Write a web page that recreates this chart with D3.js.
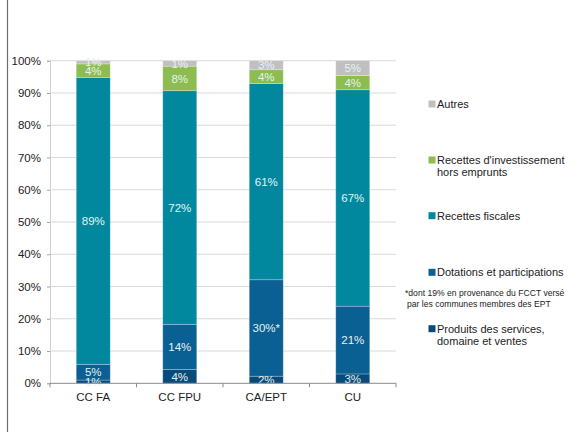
<!DOCTYPE html>
<html><head><meta charset="utf-8">
<script src="https://cdn.jsdelivr.net/npm/d3@7"></script>
<style>body{margin:0;background:#fff;} text{font-family:"Liberation Sans",Arial,Helvetica,sans-serif;}</style>
</head><body>
<svg id="c" width="587" height="432"></svg>
<script>
const categories = ["CC FA", "CC FPU", "CA/EPT", "CU"];
const seriesNames = ["Produits des services, domaine et ventes", "Dotations et participations", "Recettes fiscales", "Recettes d'investissement hors emprunts", "Autres"];
const produits   = [1.0, 4.3, 2.2, 2.9];
const dotations  = [4.8, 13.9, 29.9, 21.0];
const fiscales   = [89.0, 72.5, 60.8, 67.1];
const invest     = [4.2, 7.6, 4.3, 4.4];
const autres     = [1.0, 1.7, 2.8, 4.6];
const labelsProduits  = ["1%", "4%", "2%", "3%"];
const labelsDotations = ["5%", "14%", "30%*", "21%"];
const labelsFiscales  = ["89%", "72%", "61%", "67%"];
const labelsInvest    = ["4%", "8%", "4%", "4%"];
const labelsAutres    = ["1%", "1%", "3%", "5%"];
const yTicks = [0,10,20,30,40,50,60,70,80,90,100];

(function(){
const colors = ["#074b7c", "#0a5f93", "#01889f", "#8dbd50", "#c0c0c0"];
const seriesVals = [produits, dotations, fiscales, invest, autres];
const seriesLabels = [labelsProduits, labelsDotations, labelsFiscales, labelsInvest, labelsAutres];

const svg = d3.select("#c");
const mLeft = 50, mRight = 396, mTop = 60.7, mBottom = 383.3;

svg.append("line").attr("x1",7.5).attr("x2",7.5).attr("y1",0).attr("y2",432).attr("stroke","#6b6b6b").attr("stroke-width",1.2);

const x = d3.scaleBand().domain(categories).range([mLeft, mRight]).paddingInner(0.607).paddingOuter(0.3035);
const y = d3.scaleLinear().domain([0,100]).range([mBottom, mTop]);

svg.append("g").selectAll("line").data(yTicks.filter(d=>d>0)).join("line")
  .attr("x1", mLeft).attr("x2", mRight).attr("y1", d=>y(d)).attr("y2", d=>y(d))
  .attr("stroke", "#d9d9d9").attr("stroke-width", 1);

const yAxis = svg.append("g").attr("transform", `translate(${mLeft},0)`)
  .call(d3.axisLeft(y).tickValues(yTicks).tickFormat(d=>d+"%").tickSize(3).tickPadding(6));
yAxis.select(".domain").attr("stroke","#cfcfcf");
yAxis.selectAll(".tick line").attr("stroke","#a0a0a0");
yAxis.selectAll("text").attr("font-size", 11.5).attr("fill","#222").attr("font-family",null);

const table = categories.map((c,i)=>{ const o={cat:c}; seriesVals.forEach((s,k)=>o["s"+k]=s[i]); return o; });
const stack = d3.stack().keys(seriesVals.map((s,k)=>"s"+k))(table);

const g = svg.append("g");
stack.forEach((layer, k) => {
  g.append("g").selectAll("rect").data(layer).join("rect")
    .attr("x", d=>x(d.data.cat)).attr("width", x.bandwidth())
    .attr("y", d=>y(d[1])).attr("height", d=>y(d[0])-y(d[1]))
    .attr("fill", colors[k]).attr("stroke", "rgba(255,255,255,0.3)").attr("stroke-width", 0.8);
});
stack.forEach((layer, k) => {
  g.append("g").selectAll("text").data(layer).join("text")
    .attr("x", d=>x(d.data.cat)+x.bandwidth()/2)
    .attr("y", d=>(y(d[0])+y(d[1]))/2)
    .attr("dy", "0.36em").attr("text-anchor","middle")
    .attr("font-size", 11.5).attr("fill", "#e6f2f2")
    .text((d,i)=>seriesLabels[k][i]);
});

const xa = svg.append("g");
xa.append("line").attr("x1", mLeft).attr("x2", mRight).attr("y1", mBottom).attr("y2", mBottom).attr("stroke","#8a8a8a").attr("stroke-width",1);
xa.selectAll("line.t").data(d3.range(categories.length+1)).join("line").attr("class","t")
  .attr("x1", i=>mLeft+i*(mRight-mLeft)/categories.length).attr("x2", i=>mLeft+i*(mRight-mLeft)/categories.length)
  .attr("y1", mBottom).attr("y2", mBottom+4).attr("stroke","#8a8a8a");
svg.append("g").selectAll("text").data(categories).join("text")
  .attr("x", d=>x(d)+x.bandwidth()/2).attr("y", 397).attr("dy","0.36em")
  .attr("text-anchor","middle").attr("font-size", 11.5).attr("fill","#222").text(d=>d);

const legendItems = [
  {k:4, lines:["Autres"], y:104},
  {k:3, lines:["Recettes d'investissement","hors emprunts"], y:160},
  {k:2, lines:["Recettes fiscales"], y:215.7},
  {k:1, lines:["Dotations et participations"], y:272.3},
  {k:0, lines:["Produits des services,","domaine et ventes"], y:328.7}
];
const lg = svg.append("g");
legendItems.forEach(it=>{
  lg.append("rect").attr("x",428.5).attr("y",it.y-3.5).attr("width",7).attr("height",7).attr("fill",colors[it.k]);
  it.lines.forEach((t,j)=>{
    lg.append("text").attr("x",437).attr("y",it.y+j*12.5).attr("dy","0.36em")
      .attr("font-size",11).attr("fill","#222").text(t);
  });
});
lg.append("text").attr("x",405).attr("y",292.7).attr("dy","0.36em").attr("font-size",8.6).attr("fill","#222").text("*dont 19% en provenance du FCCT versé");
lg.append("text").attr("x",407).attr("y",303.5).attr("dy","0.36em").attr("font-size",8.6).attr("fill","#222").text("par les communes membres des EPT");
})();
</script>
</body></html>
